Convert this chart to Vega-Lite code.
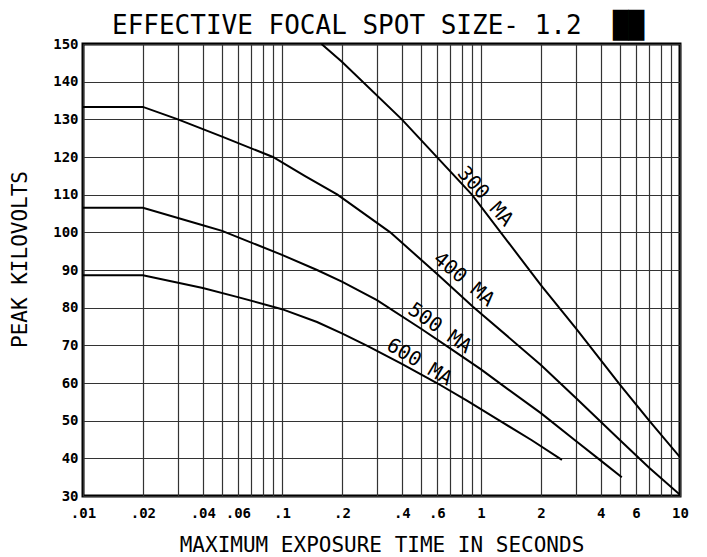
{
  "$schema": "https://vega.github.io/schema/vega-lite/v6.json",
  "width": 597,
  "height": 452,
  "autosize": {"type": "none"},
  "padding": {"left": 83, "top": 44, "right": 27, "bottom": 61},
  "background": "white",
  "config": {
    "view": {"stroke": "black", "strokeWidth": 3},
    "font": "DejaVu Sans Mono"
  },
  "title": {
    "text": "EFFECTIVE FOCAL SPOT SIZE- 1.2 \u00a0██",
    "anchor": "start",
    "frame": "group",
    "font": "DejaVu Sans Mono",
    "fontSize": 26,
    "fontWeight": "normal",
    "color": "black",
    "offset": -2,
    "dx": 29
  },
  "datasets": {
    "curves": [
      {"current": "300 MA", "t": 0.158, "kv": 150},
      {"current": "300 MA", "t": 0.2, "kv": 145.3},
      {"current": "300 MA", "t": 0.4, "kv": 130},
      {"current": "300 MA", "t": 0.9, "kv": 110},
      {"current": "300 MA", "t": 2, "kv": 86},
      {"current": "300 MA", "t": 3, "kv": 74.5},
      {"current": "300 MA", "t": 5, "kv": 59.5},
      {"current": "300 MA", "t": 7, "kv": 50},
      {"current": "300 MA", "t": 10, "kv": 40.3},
      {"current": "400 MA", "t": 0.01, "kv": 133.3},
      {"current": "400 MA", "t": 0.02, "kv": 133.3},
      {"current": "400 MA", "t": 0.03, "kv": 130},
      {"current": "400 MA", "t": 0.05, "kv": 125.4},
      {"current": "400 MA", "t": 0.09, "kv": 120},
      {"current": "400 MA", "t": 0.13, "kv": 115},
      {"current": "400 MA", "t": 0.19, "kv": 110},
      {"current": "400 MA", "t": 0.35, "kv": 100},
      {"current": "400 MA", "t": 0.6, "kv": 89},
      {"current": "400 MA", "t": 0.914, "kv": 80.2},
      {"current": "400 MA", "t": 2, "kv": 64.8},
      {"current": "400 MA", "t": 3, "kv": 56},
      {"current": "400 MA", "t": 5, "kv": 44.8},
      {"current": "400 MA", "t": 7, "kv": 37.5},
      {"current": "400 MA", "t": 10, "kv": 30.3},
      {"current": "500 MA", "t": 0.01, "kv": 106.5},
      {"current": "500 MA", "t": 0.02, "kv": 106.5},
      {"current": "500 MA", "t": 0.04, "kv": 101.9},
      {"current": "500 MA", "t": 0.05, "kv": 100.4},
      {"current": "500 MA", "t": 0.1, "kv": 94},
      {"current": "500 MA", "t": 0.15, "kv": 90},
      {"current": "500 MA", "t": 0.2, "kv": 86.9},
      {"current": "500 MA", "t": 0.3, "kv": 82},
      {"current": "500 MA", "t": 0.5, "kv": 74.4},
      {"current": "500 MA", "t": 0.7, "kv": 69.2},
      {"current": "500 MA", "t": 1, "kv": 63.6},
      {"current": "500 MA", "t": 1.245, "kv": 59.9},
      {"current": "500 MA", "t": 2, "kv": 52},
      {"current": "500 MA", "t": 3, "kv": 44.6},
      {"current": "500 MA", "t": 4, "kv": 39.4},
      {"current": "500 MA", "t": 5.1, "kv": 35},
      {"current": "600 MA", "t": 0.01, "kv": 88.6},
      {"current": "600 MA", "t": 0.02, "kv": 88.6},
      {"current": "600 MA", "t": 0.04, "kv": 85.2},
      {"current": "600 MA", "t": 0.06, "kv": 82.8},
      {"current": "600 MA", "t": 0.1, "kv": 79.6},
      {"current": "600 MA", "t": 0.15, "kv": 76.2},
      {"current": "600 MA", "t": 0.2, "kv": 73.2},
      {"current": "600 MA", "t": 0.27, "kv": 69.8},
      {"current": "600 MA", "t": 0.4, "kv": 65.1},
      {"current": "600 MA", "t": 0.6, "kv": 60},
      {"current": "600 MA", "t": 0.85, "kv": 55.3},
      {"current": "600 MA", "t": 1.24, "kv": 50},
      {"current": "600 MA", "t": 1.8, "kv": 44.8},
      {"current": "600 MA", "t": 2.55, "kv": 39.6}
    ],
    "labels": [
      {"label": "300 MA", "t": 1.05, "kv": 109.5},
      {"label": "400 MA", "t": 0.82, "kv": 87.5},
      {"label": "500 MA", "t": 0.62, "kv": 74.5},
      {"label": "600 MA", "t": 0.49, "kv": 65.5}
    ]
  },
  "encoding": {
    "x": {
      "field": "t",
      "type": "quantitative",
      "scale": {"type": "log", "domain": [0.01, 10], "nice": false},
      "axis": {
        "title": "MAXIMUM EXPOSURE TIME IN SECONDS",
        "values": [0.01, 0.02, 0.03, 0.04, 0.05, 0.06, 0.07, 0.08, 0.09, 0.1, 0.2, 0.3, 0.4, 0.5, 0.6, 0.7, 0.8, 0.9, 1, 2, 3, 4, 5, 6, 7, 8, 9, 10],
        "labelExpr": "indexof([0.01,0.02,0.04,0.06,0.1,0.2,0.4,0.6,1,2,4,6,10], datum.value) >= 0 ? replace(toString(datum.value), '0.', '.') : ''",
        "grid": true,
        "gridColor": "#333333",
        "gridWidth": 1.2,
        "gridOpacity": 1,
        "ticks": false,
        "domain": false,
        "labelFont": "DejaVu Sans Mono",
        "labelFontWeight": "bold",
        "labelFontSize": 14,
        "labelColor": "black",
        "labelPadding": 10,
        "labelOverlap": false,
        "labelFlush": false,
        "titleFont": "DejaVu Sans Mono",
        "titleFontSize": 21,
        "titleFontWeight": "normal",
        "titleColor": "black",
        "titlePadding": 14
      }
    },
    "y": {
      "field": "kv",
      "type": "quantitative",
      "scale": {"domain": [30, 150], "nice": false, "zero": false},
      "axis": {
        "title": "PEAK KILOVOLTS",
        "values": [30, 40, 50, 60, 70, 80, 90, 100, 110, 120, 130, 140, 150],
        "grid": true,
        "gridColor": "#333333",
        "gridWidth": 1.2,
        "gridOpacity": 1,
        "ticks": false,
        "domain": false,
        "labelFont": "DejaVu Sans Mono",
        "labelFontWeight": "bold",
        "labelFontSize": 14,
        "labelColor": "black",
        "labelPadding": 5,
        "labelOverlap": false,
        "labelFlush": false,
        "titleFont": "DejaVu Sans Mono",
        "titleFontSize": 21,
        "titleFontWeight": "normal",
        "titleColor": "black",
        "titleAngle": -90,
        "titleBaseline": "middle",
        "titleAlign": "center",
        "titleX": -63,
        "titleY": 215
      }
    }
  },
  "layer": [
    {
      "data": {"name": "curves"},
      "mark": {"type": "line", "color": "black", "strokeWidth": 2, "clip": true},
      "encoding": {"detail": {"field": "current"}}
    },
    {
      "data": {"name": "labels"},
      "transform": [{"filter": "datum.label == '300 MA'"}],
      "mark": {"type": "text", "angle": 48, "font": "DejaVu Sans Mono", "fontSize": 20, "color": "black", "align": "center", "baseline": "middle"},
      "encoding": {"text": {"field": "label"}}
    },
    {
      "data": {"name": "labels"},
      "transform": [{"filter": "datum.label == '400 MA'"}],
      "mark": {"type": "text", "angle": 40, "font": "DejaVu Sans Mono", "fontSize": 20, "color": "black", "align": "center", "baseline": "middle"},
      "encoding": {"text": {"field": "label"}}
    },
    {
      "data": {"name": "labels"},
      "transform": [{"filter": "datum.label == '500 MA'"}],
      "mark": {"type": "text", "angle": 35, "font": "DejaVu Sans Mono", "fontSize": 20, "color": "black", "align": "center", "baseline": "middle"},
      "encoding": {"text": {"field": "label"}}
    },
    {
      "data": {"name": "labels"},
      "transform": [{"filter": "datum.label == '600 MA'"}],
      "mark": {"type": "text", "angle": 31, "font": "DejaVu Sans Mono", "fontSize": 20, "color": "black", "align": "center", "baseline": "middle"},
      "encoding": {"text": {"field": "label"}}
    }
  ]
}
